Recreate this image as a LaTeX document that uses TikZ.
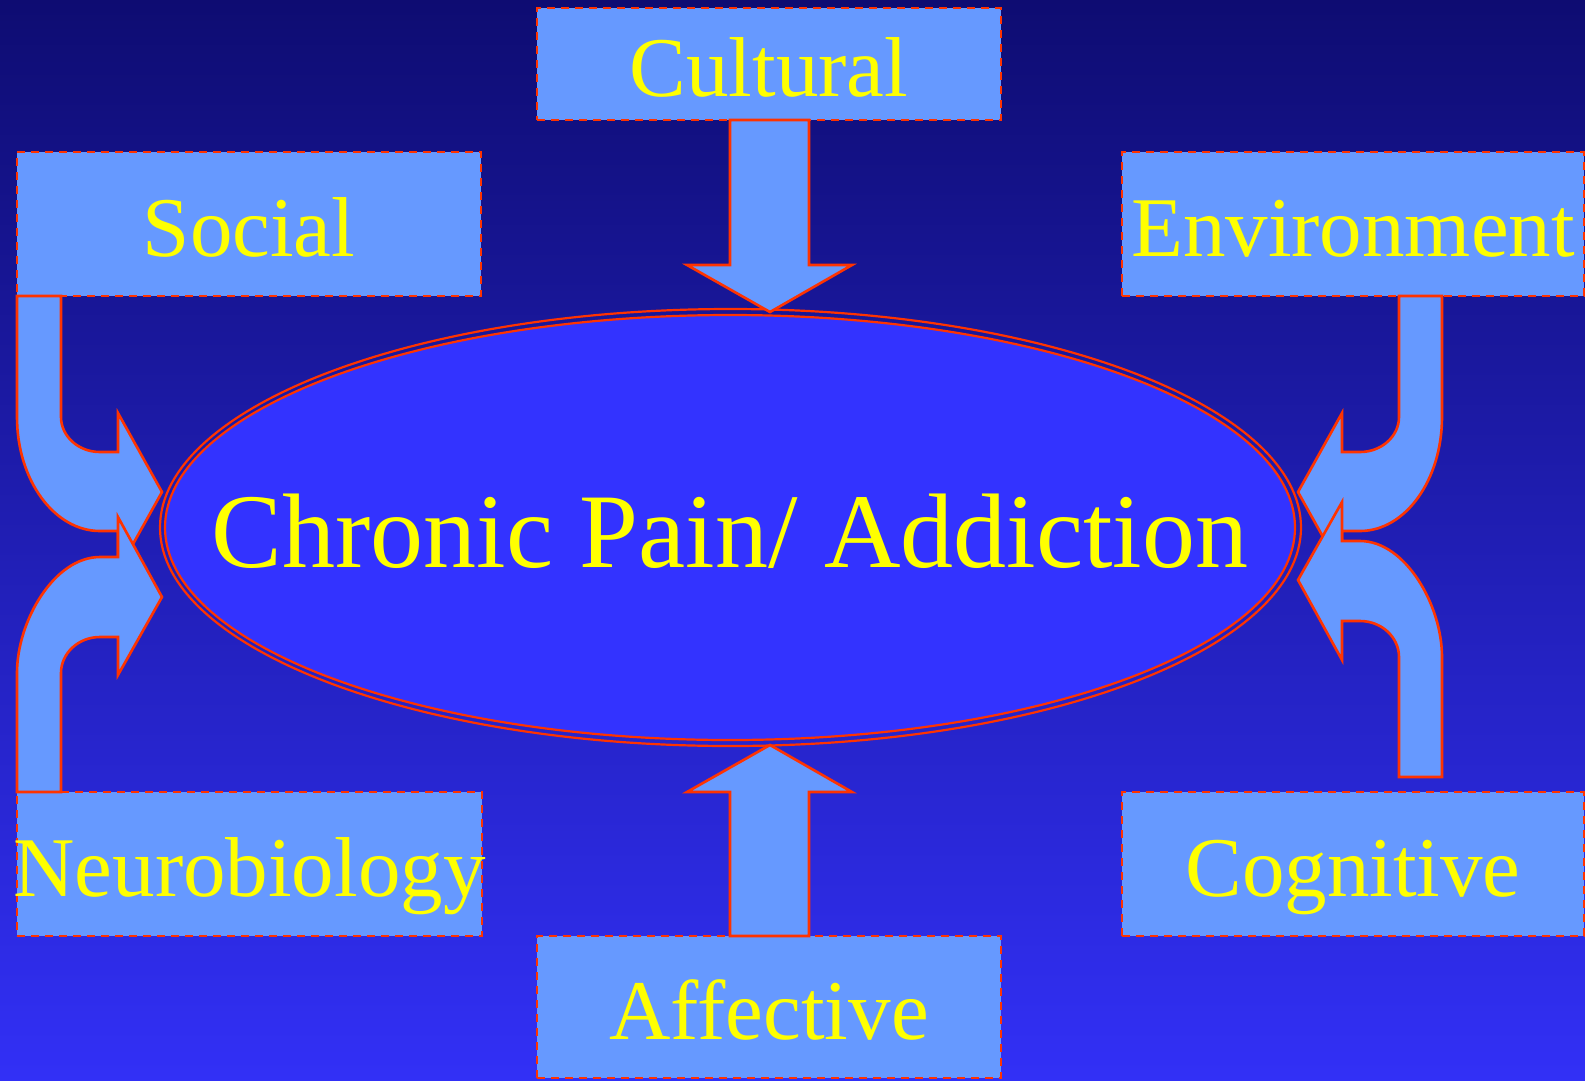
\documentclass[tikz,border=0pt]{standalone}
\usepackage{fontspec}
\setmainfont{Liberation Serif}
\usetikzlibrary{shapes.geometric}
\definecolor{bgtop}{RGB}{14,12,114}
\definecolor{bgbot}{RGB}{50,48,246}
\definecolor{boxfill}{RGB}{102,153,255}
\definecolor{corefill}{RGB}{51,51,255}
\definecolor{edgered}{RGB}{255,51,0}
\definecolor{txtyellow}{RGB}{255,255,0}
\tikzset{
  factor/.style={draw=edgered, fill=boxfill, line width=2.6pt, dash pattern=on 8pt off 6pt,
    rectangle, inner sep=0pt, text=txtyellow, font=\fontsize{85}{100}\selectfont,
    text height=64pt, text depth=0pt},
  blockarrow/.style={draw=edgered, fill=boxfill, line width=2.6pt, line join=miter},
  corebox/.style={ellipse, draw=edgered, fill=corefill, line width=2.2pt, inner sep=0pt,
    text=txtyellow, font=\fontsize{106}{120}\selectfont, text height=79pt, text depth=0pt}
}
\begin{document}
\begin{tikzpicture}[x=1pt,y=-1pt]
\useasboundingbox (0,0) rectangle (1585,1080);
\shade[top color=bgtop, bottom color=bgbot] (0,0) rectangle (1585,1080);

% central ellipse
\draw[edgered, line width=2.2pt] (730.5,527.5) ellipse [x radius=570.5pt, y radius=218.5pt];
\node[corebox, minimum width=1130pt, minimum height=425pt] (core) at (730,527.5)
  {\makebox[0pt]{Chronic Pain/ Addiction}};

% factor boxes
\node[factor, minimum width=464pt, minimum height=112pt] (cultural) at (769,64) {\makebox[0pt]{Cultural}};
\node[factor, minimum width=464pt, minimum height=144pt] (social) at (249,224) {\makebox[0pt]{Social}};
\node[factor, minimum width=462pt, minimum height=144pt] (environment) at (1353,224) {\makebox[0pt]{Environment}};
\node[factor, minimum width=465pt, minimum height=144pt] (neuro) at (249.5,864) {\makebox[0pt]{Neurobiology}};
\node[factor, minimum width=462pt, minimum height=144pt] (cognitive) at (1353,864) {\makebox[0pt]{Cognitive}};
\node[factor, minimum width=464pt, minimum height=142pt] (affective) at (769,1007) {\makebox[0pt]{Affective}};

% Cultural -> core
\draw[blockarrow] (730,120) -- (809,120) -- (809,265) -- (852,265) -- (770,312) -- (687,265) -- (730,265) -- cycle;
% Affective -> core
\draw[blockarrow] (730,936) -- (730,792) -- (687,792) -- (770,745) -- (852,792) -- (809,792) -- (809,936) -- cycle;

% Social -> core
\draw[blockarrow] (17,296) -- (61,296) -- (61,417)
  .. controls (61,436.3) and (78.5,452) .. (100,452)
  -- (118,452) -- (118,413) -- (162,492) -- (118,571) -- (118,531) -- (100,531)
  .. controls (54.2,531) and (17,480) .. (17,417) -- cycle;
% Neurobiology -> core
\draw[blockarrow] (17,792) -- (61,792) -- (61,673)
  .. controls (61,653.1) and (78.5,637) .. (100,637)
  -- (118,637) -- (118,675) -- (162,597) -- (118,517) -- (118,557) -- (100,557)
  .. controls (54.2,557) and (17,621.1) .. (17,673) -- cycle;
% Environment -> core
\draw[blockarrow] (1442,296) -- (1399,296) -- (1399,417)
  .. controls (1399,436.3) and (1381.5,452) .. (1360,452)
  -- (1342,452) -- (1342,413) -- (1298,492) -- (1342,571) -- (1342,531) -- (1360,531)
  .. controls (1405.3,531) and (1442,480) .. (1442,417) -- cycle;
% Cognitive -> core
\draw[blockarrow] (1442,777) -- (1399,777) -- (1399,657)
  .. controls (1399,637.1) and (1381.5,621) .. (1360,621)
  -- (1342,621) -- (1342,660) -- (1298,580) -- (1342,502) -- (1342,541) -- (1360,541)
  .. controls (1405.3,541) and (1442,605.1) .. (1442,657) -- cycle;
\end{tikzpicture}
\end{document}
